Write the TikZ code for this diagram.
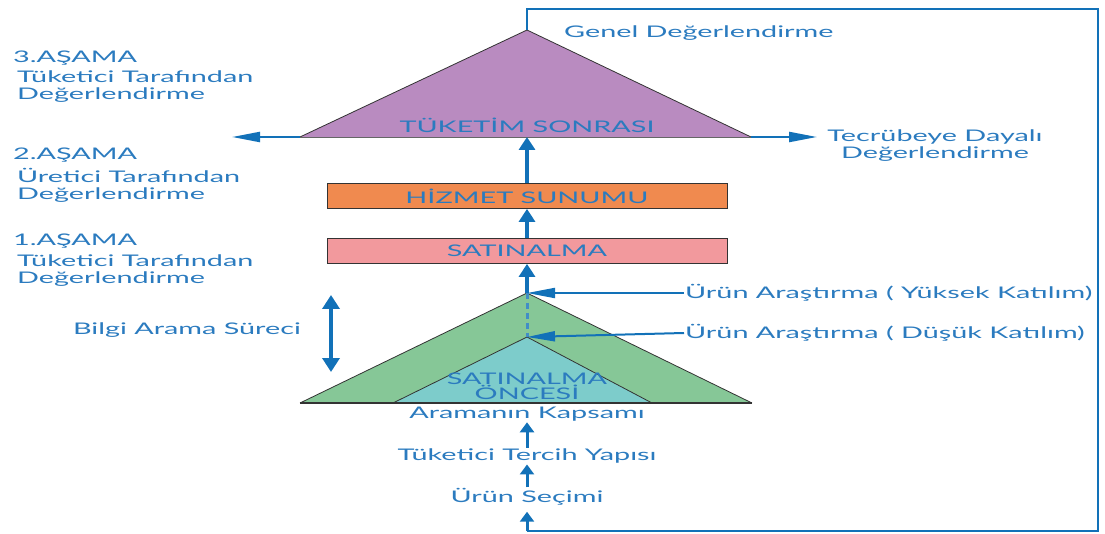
\documentclass[tikz,border=0pt]{standalone}
\usepackage{fontspec}
\setmainfont{Lato}[FakeStretch=1.8]
\usetikzlibrary{arrows.meta, positioning}
\definecolor{yazimavi}{HTML}{2B7BBF}
\definecolor{okmavi}{HTML}{1271B8}
\definecolor{mor}{HTML}{B98BC0}
\definecolor{yesil}{HTML}{86C797}
\definecolor{turkuaz}{HTML}{7DCCCB}
\definecolor{turuncu}{HTML}{F08A4F}
\definecolor{pembe}{HTML}{F2999D}

\begin{document}
\begin{tikzpicture}[x=1pt, y=-1pt,
    yazi/.style={text=yazimavi, font=\fontsize{16}{17}\selectfont, inner sep=1pt},
    solyazi/.style={yazi, anchor=west, align=left},
    kutu/.style={draw=black!80, line width=0.8pt, minimum width=400pt,
        minimum height=25pt, text=yazimavi, font=\fontsize{16}{17}\selectfont},
    ucgen/.style={draw=black!80, line width=0.8pt},
    ok/.style={draw=okmavi, line width=3.5pt, -{Triangle[width=16pt, length=13pt]}},
    kucukok/.style={draw=okmavi, line width=3pt, -{Triangle[width=14pt, length=10pt]}},
    yanok/.style={draw=okmavi, line width=2.2pt, -{Triangle[width=10pt, length=28pt]}},
    dongu/.style={draw=okmavi, line width=2pt}]
    \useasboundingbox (0,0) rectangle (1105,534);

    % ucgenlerin koseleri
    \coordinate (ptepe) at (527,30);
    \coordinate (psol) at (300,137);
    \coordinate (psag) at (751,137);
    \coordinate (ptaban) at (527,137);
    \coordinate (ytepe) at (527,293);
    \coordinate (ysol) at (300,403);
    \coordinate (ysag) at (752,403);
    \coordinate (ttepe) at (527,337);
    \coordinate (tsol) at (393,403);
    \coordinate (tsag) at (652,403);

    % tuketim sonrasi (mor)
    \fill[mor] (ptepe) -- (psag) -- (psol) -- cycle;
    \draw[ucgen] (psol) -- (ptepe) -- (psag);
    \draw[draw=black!60, line width=0.6pt] (psol) -- (psag);
    \node[yazi] (tuketim) at (527,125) {TÜKETİM SONRASI};

    % satinalma oncesi (yesil ve turkuaz)
    \fill[yesil] (ytepe) -- (ysag) -- (ysol) -- cycle;
    \draw[ucgen] (ysol) -- (ytepe) -- (ysag);
    \fill[turkuaz] (ttepe) -- (tsag) -- (tsol) -- cycle;
    \draw[ucgen] (tsol) -- (ttepe) -- (tsag);
    \draw[draw=black!80, line width=1.2pt] (ysol) -- (ysag);
    \node[yazi, align=center, font=\fontsize{16}{15}\selectfont] (oncesi) at (527,386) {SATINALMA\\ÖNCESİ};
    \draw[draw=okmavi!80, line width=3pt, dash pattern=on 6pt off 4pt] (ytepe) -- (ttepe);

    % kutular
    \node[kutu, fill=turuncu] (hizmet) at (527,196) {HİZMET SUNUMU};
    \node[kutu, fill=pembe] (satin) at (527,251) {SATINALMA};

    % dikey oklar
    \draw[ok] (hizmet.north) -- (ptaban);
    \draw[ok] (satin.north) -- (hizmet.south);
    \draw[ok] (ytepe) -- (satin.south);

    % yan oklar
    \coordinate (solok) at (232,137);
    \coordinate (sagok) at (817,137);
    \draw[yanok] (psol) -- (solok);
    \draw[yanok] (psag) -- (sagok);

    % sol yazilar
    \node[solyazi] (asama3) at (12,58) {3.AŞAMA};
    \node[solyazi] (taraf3) at (16,87) {Tüketici Tarafından\\Değerlendirme};
    \node[solyazi] (asama2) at (12,155) {2.AŞAMA};
    \node[solyazi] (taraf2) at (16,185) {Üretici Tarafından\\Değerlendirme};
    \node[solyazi] (asama1) at (12,241) {1.AŞAMA};
    \node[solyazi] (taraf1) at (16,271) {Tüketici Tarafından\\Değerlendirme};

    % sag yazilar
    \node[solyazi] (genel) at (563,33) {Genel Değerlendirme};
    \node[yazi, align=center] (tecrube) at (935,146) {Tecrübeye Dayalı\\Değerlendirme};
    \node[solyazi] (yuksek) at (684,293) {Ürün Araştırma ( Yüksek Katılım)};
    \node[solyazi] (dusuk) at (684,333) {Ürün Araştırma ( Düşük Katılım)};
    \draw[draw=okmavi, line width=2pt, -{Triangle[width=10pt, length=28pt]}] (yuksek.west) -- (ytepe);
    \draw[draw=okmavi, line width=2pt, -{Triangle[width=10pt, length=28pt]}] (dusuk.west) -- (ttepe);

    % bilgi arama sureci
    \node[yazi] (bilgi) at (187,330) {Bilgi Arama Süreci};
    \coordinate (bilgiust) at (331,295);
    \coordinate (bilgialt) at (331,372);
    \draw[draw=okmavi, line width=4pt, {Triangle[width=17pt, length=14pt]}-{Triangle[width=17pt, length=14pt]}] (bilgiust) -- (bilgialt);

    % alt zincir
    \node[yazi] (kapsam) at (527,414) {Aramanın Kapsamı};
    \node[yazi] (tercih) at (527,456) {Tüketici Tercih Yapısı};
    \node[yazi] (secim) at (527,497) {Ürün Seçimi};
    \draw[kucukok] (tercih.north) -- (kapsam.south);
    \draw[kucukok] (secim.north) -- (tercih.south);

    % geri besleme dongusu
    \coordinate (dongu1) at (527,9);
    \coordinate (dongu2) at (1098,9);
    \coordinate (dongu3) at (1098,531);
    \coordinate (dongu4) at (527,531);
    \draw[dongu] (ptepe) -- (dongu1) -- (dongu2) -- (dongu3) -- (dongu4);
    \draw[kucukok, shorten >=5pt] (dongu4) -- (secim.south);
\end{tikzpicture}
\end{document}
